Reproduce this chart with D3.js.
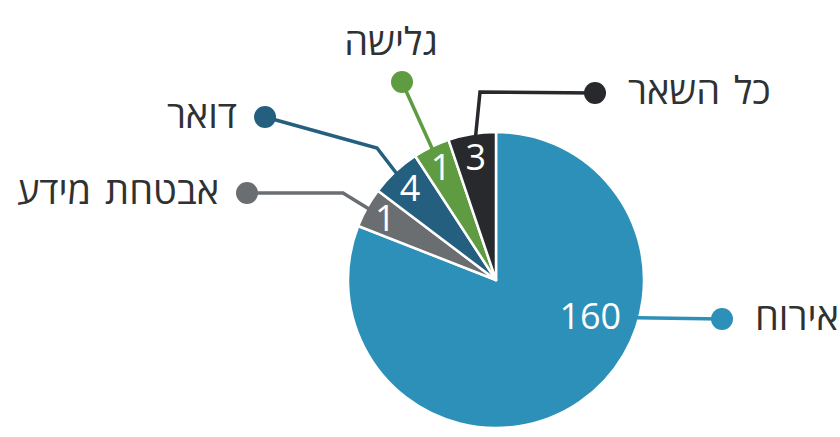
<!DOCTYPE html>
<html lang="he">
<head>
<meta charset="utf-8">
<script src="https://cdn.jsdelivr.net/npm/d3@7"></script>
<style>
  html, body { margin: 0; padding: 0; background: #fff; }
  svg { display: block; font-family: 'Open Sans', 'Noto Sans', sans-serif; }
</style>
</head>
<body>
<svg id="chart" width="840" height="437"></svg>
<script>
// data
const categories = ['אירוח', 'אבטחת מידע', 'דואר', 'גלישה', 'כל השאר'];
const values = [160, 1, 4, 1, 3];
const sliceAngles = [291.4, 15.7, 19.8, 14.4, 18.7];
const colors = ['#2d90b8', '#6b6e71', '#255f7f', '#5f9b40', '#27292c'];

// leader layout: start angle on the rim, optional elbow, dot, label side
const leaders = [
  { angle: 105, elbow: null, dot: [722, 319], side: 'right' },
  { angle: null, elbow: [343, 193], dot: [247, 193], side: 'left' },
  { angle: null, elbow: [377, 148], dot: [265, 117], side: 'left' },
  { angle: null, elbow: null, dot: [402, 82], side: 'top' },
  { angle: 352, elbow: [480, 92], dot: [595, 93], side: 'right' }
];
const valueLabelPos = [
  { angle: 111, r: 101 },
  { angle: null, r: 127 },
  { angle: null, r: 126 },
  { angle: null, r: 126 },
  { angle: null, r: 125 }
];

const svg = d3.select('#chart');
const cx = 496;
const cy = 280;
const radius = 148;
const rad = Math.PI / 180;

const g = svg.append('g').attr('transform', 'translate(' + cx + ',' + cy + ')');

const pie = d3.pie()
  .sort(null)
  .value(function(d, i) { return sliceAngles[i]; });

const arcs = pie(values);

const arc = d3.arc()
  .innerRadius(0)
  .outerRadius(radius);

g.selectAll('path.slice')
  .data(arcs)
  .enter()
  .append('path')
  .attr('class', 'slice')
  .attr('d', arc)
  .attr('fill', function(d, i) { return colors[i]; })
  .attr('stroke', '#fff')
  .attr('stroke-width', 2.5)
  .attr('stroke-linejoin', 'round');

function polar(angleDeg, r) {
  return [r * Math.sin(angleDeg * rad), -r * Math.cos(angleDeg * rad)];
}
function midDeg(d) {
  return (d.startAngle + d.endAngle) / 2 / rad;
}

// leader lines + dots + category names
arcs.forEach(function(d, i) {
  const lay = leaders[i];
  const a = lay.angle === null ? midDeg(d) : lay.angle;
  const start = polar(a, radius - 2);
  const pts = [[start[0] + cx, start[1] + cy]];
  if (lay.elbow) pts.push(lay.elbow);
  pts.push(lay.dot);

  svg.append('path')
    .attr('d', d3.line()(pts))
    .attr('fill', 'none')
    .attr('stroke', colors[i])
    .attr('stroke-width', 3.5);

  svg.append('circle')
    .attr('cx', lay.dot[0])
    .attr('cy', lay.dot[1])
    .attr('r', 11)
    .attr('fill', colors[i]);

  const t = svg.append('text')
    .text(categories[i])
    .attr('fill', '#2f3133')
    .attr('font-size', 38)
    .attr('word-spacing', 4);
  if (lay.side === 'left') {
    t.attr('x', lay.dot[0] - 28).attr('y', lay.dot[1] + 11).attr('text-anchor', 'end');
  } else if (lay.side === 'right') {
    t.attr('x', lay.dot[0] + 33).attr('y', lay.dot[1] + 11).attr('text-anchor', 'start');
  } else {
    t.attr('x', lay.dot[0] - 11).attr('y', lay.dot[1] - 27).attr('text-anchor', 'middle');
  }
});

// value labels
g.selectAll('text.value')
  .data(arcs)
  .enter()
  .append('text')
  .attr('class', 'value')
  .attr('transform', function(d, i) {
    const p = valueLabelPos[i];
    const a = p.angle === null ? midDeg(d) : p.angle;
    const xy = polar(a, p.r);
    return 'translate(' + xy[0] + ',' + xy[1] + ')';
  })
  .attr('text-anchor', 'middle')
  .attr('dy', '0.36em')
  .attr('fill', '#fff')
  .attr('font-size', 36)
  .text(function(d) { return d.data; });
</script>
</body>
</html>
